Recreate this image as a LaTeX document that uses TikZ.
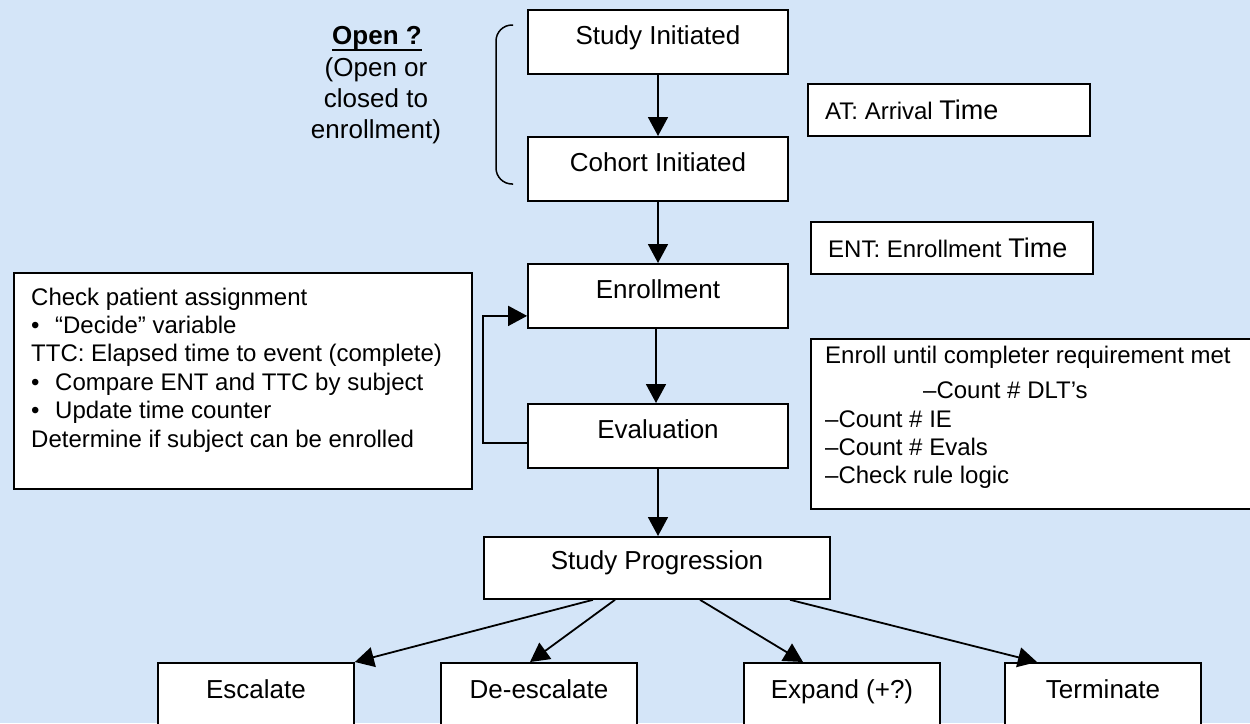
\documentclass[tikz,border=0pt]{standalone}
\usepackage{fontspec}
\setmainfont{Liberation Sans}
\usetikzlibrary{arrows.meta}
\definecolor{bgblue}{RGB}{212,229,248}
\begin{document}
\begin{tikzpicture}[x=1pt,y=-1pt,
  box/.style={draw, fill=white, line width=1.8pt, inner sep=0pt},
  mainbox/.style={box, minimum width=260pt, text height=35pt, text depth=29pt,
    font=\fontsize{26}{30}\selectfont, anchor=north},
  botbox/.style={mainbox, minimum width=196pt, text height=36pt, text depth=28pt},
  arr/.style={line width=1.8pt, -{Triangle[length=19pt,width=20pt]}},
  sidetext/.style={font=\fontsize{24}{28.4}\selectfont, inner sep=0pt, align=left, anchor=north west},
  notebox/.style={box, anchor=north west, minimum width=282pt, minimum height=52pt},
  notetext/.style={font=\fontsize{24}{28}\selectfont, inner sep=0pt, anchor=base west}]
\fill[bgblue] (0,0) rectangle (1250,723);
\useasboundingbox (0,0) rectangle (1250,723);

% main column
\node[mainbox] (study) at (658,9) {Study Initiated};
\node[mainbox] (cohort) at (658,136) {Cohort Initiated};
\node[mainbox] (enroll) at (658,263) {Enrollment};
\node[mainbox] (eval) at (658,403) {Evaluation};
\node[mainbox, minimum width=346pt, text height=33pt] (prog) at (657,536) {Study Progression};

% bottom row
\node[botbox] (esc) at (256,662) {Escalate};
\node[botbox] (deesc) at (539,662) {De-escalate};
\node[botbox] (expand) at (842,662) {Expand (+?)};
\node[botbox] (term) at (1103,662) {Terminate};

% connectors
\draw[arr] (study) -- (cohort);
\draw[arr] (cohort) -- (enroll);
\draw[arr] ([xshift=-2pt]enroll.south) -- ([xshift=-2pt]eval.north);
\draw[arr] (eval.south) -- (eval.south |- prog.north);
\draw[arr] ([yshift=-7pt]eval.west) -- ++(-44,0) |- ([yshift=-20pt]enroll.west);
\draw[arr] ([xshift=-64pt]prog.south) -- (esc.north east);
\draw[arr] ([xshift=-42pt]prog.south) -- ([xshift=-9pt]deesc.north);
\draw[arr] ([xshift=43pt]prog.south) -- ([xshift=-39pt]expand.north);
\draw[arr] ([xshift=133pt]prog.south) -- ([xshift=-66pt]term.north);

% notes on the right
\node[notebox] (at) at (807,83) {};
\node[notetext] (attxt) at ([xshift=18pt,yshift=-10pt]at.west) {AT: Arrival {\fontsize{27}{28}\selectfont Time}};
\node[notebox] (ent) at (810,221) {};
\node[notetext] (enttxt) at ([xshift=18pt,yshift=-9.5pt]ent.west) {ENT: Enrollment {\fontsize{27}{28}\selectfont Time}};

% check box on the left
\node[box, anchor=north west, minimum width=458pt, minimum height=216pt] (check) at (13,272) {};
\node[sidetext] (checktxt) at ([xshift=18pt,yshift=-15.5pt]check.north west)
  {Check patient assignment\\
   \makebox[24pt][l]{•}“Decide” variable\\
   TTC: Elapsed time to event (complete)\\
   \makebox[24pt][l]{•}Compare ENT and TTC by subject\\
   \makebox[24pt][l]{•}Update time counter\\
   Determine if subject can be enrolled};

% enroll-until box on the right
\node[box, anchor=north west, minimum width=460pt, minimum height=170pt] (untilbox) at (810,338) {};
\node[sidetext] (untiltxt) at ([xshift=15pt,yshift=-7.8pt]untilbox.north west)
  {Enroll until completer requirement met\\[7pt]
   \hspace*{98pt}–Count \# DLT’s\\
   –Count \# IE\\
   –Count \# Evals\\
   –Check rule logic};

% open ? label and brace
\node[font=\fontsize{26}{31}\selectfont\bfseries, inner sep=0pt, anchor=base] (open) at (377,44) {Open ?};
\draw[line width=2.2pt] ([yshift=-6pt]open.base west) -- ([yshift=-6pt]open.base east);
\node[font=\fontsize{26}{31}\selectfont, inner sep=0pt, align=center, anchor=north] (opentxt) at (376,57)
  {(Open or\\closed to\\enrollment)};
\draw[line width=1.5pt, rounded corners=16pt] (513,25) -- (496,25) -- (496,184) -- (513,184);
\end{tikzpicture}
\end{document}
